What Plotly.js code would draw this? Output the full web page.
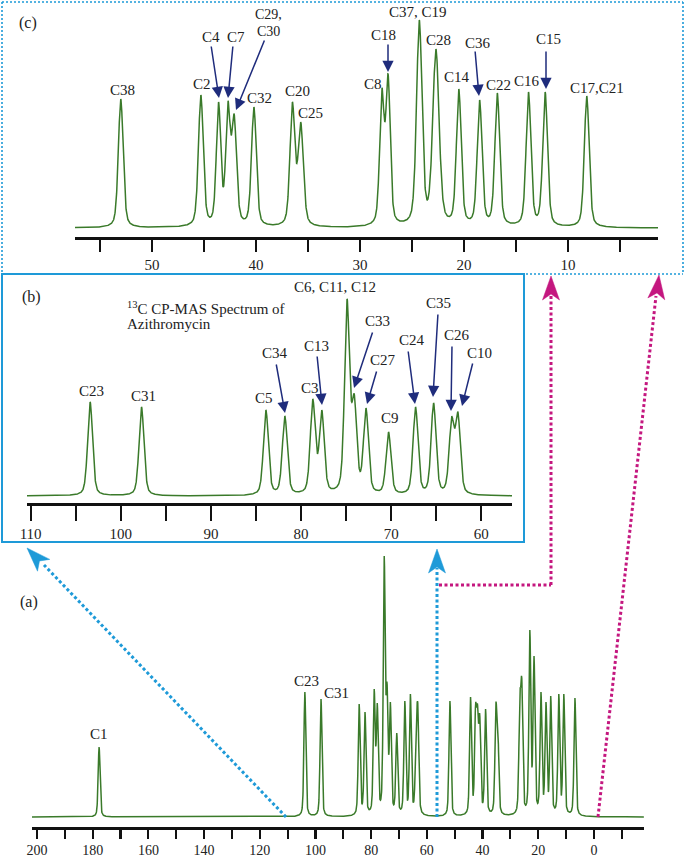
<!DOCTYPE html>
<html>
<head>
<meta charset="utf-8">
<script src="https://cdn.plot.ly/plotly-3.0.1.min.js"></script>
<style>
html,body{margin:0;padding:0;background:#fff;}
#chart{width:685px;height:859px;}
</style>
</head>
<body>
<div id="chart"></div>
<script>
// ---------------- DATA ----------------
// Panel (c): aliphatic region, 0-57 ppm
const cLabels = ["C38","C2","C4","C7","C29,C30","C32","C20","C25","C8","C18","C37,C19","C28","C14","C36","C22","C16","C15","C17,C21"];
const cShift  = [53.0, 45.3, 43.6, 42.7, 42.1, 40.2, 36.5, 35.7, 27.9, 27.3, 24.3, 22.7, 20.5, 18.5, 16.8, 13.8, 12.2, 8.2];
const cHeight = [129, 133, 126, 127, 114, 121, 126, 106, 140, 154, 208, 179, 139, 128, 135, 136, 136, 132];
const cWidth  = [0.55,0.55,0.5,0.5,0.55,0.55,0.55,0.6,0.5,0.5,0.62,0.72,0.55,0.55,0.55,0.55,0.55,0.55];

// Panel (b): 57-110 ppm
const bLabels = ["C23","C31","C5","C34","C3","C13","C6,C11,C12","C33","C27","C9","C24","C35","C26","C10"];
const bShift  = [103.4, 97.7, 83.9, 81.8, 78.7, 77.7, 74.9, 74.1, 72.8, 70.3, 67.3, 65.3, 63.3, 62.6];
const bHeight = [94, 89, 86, 80, 97, 86, 197, 102, 88, 64, 89, 93, 79, 84];

// Panel (a): full spectrum
const aShift  = [177.7, 103.8, 98.0, 84.3, 82.2, 78.9, 77.8, 75.3, 74.3, 73.1, 70.8, 67.9, 65.9, 63.8, 63.2,
                 51.7, 44.3, 42.5, 41.8, 41.0, 38.9, 35.2, 34.5, 26.6, 25.9, 23.0, 21.5, 19.0, 17.2, 15.5, 12.6, 10.8, 6.8];
const aHeight = [70, 125, 118, 113, 105, 128, 114, 261, 135, 115, 84, 116, 123, 104, 111,
                 116, 120, 113, 113, 103, 108, 114, 95, 125, 139, 187, 161, 125, 115, 121, 123, 123, 119];

// tick values / labels
const aTicks = [200,190,180,170,160,150,140,130,120,110,100,90,80,70,60,50,40,30,20,10,0,-10];
const aTickText = ["200","","180","","160","","140","","120","","100","","80","","60","","40","","20","","0",""];
const bTicks = [110,105,100,95,90,85,80,75,70,65,60];
const bTickText = ["110","","100","","90","","80","","70","","60"];
const cTicks = [55,50,45,40,35,30,25,20,15,10,5];
const cTickText = ["","50","","40","","30","","20","","10",""];

// ---------------- line shape (pseudo-Voigt) ----------------
function shape(x, x0, hw){
  const t = (x - x0) / hw;
  return 0.4 / (1 + t*t) + 0.6 * Math.exp(-Math.LN2 * t*t);
}
function spectrum(shifts, heights, widths, lo, hi, step){
  const n = shifts.length;
  const hw = widths.map(w => w/2);
  let amp = heights.slice();
  for(let it=0; it<60; it++){
    for(let i=0;i<n;i++){
      let s=0; for(let j=0;j<n;j++) s += amp[j]*shape(shifts[i], shifts[j], hw[j]);
      amp[i] = Math.max(0, amp[i] + 0.7*(heights[i]-s));
    }
  }
  const xs=[], ys=[];
  for(let x=hi; x>=lo; x-=step){
    let s=0; for(let j=0;j<n;j++) s += amp[j]*shape(x, shifts[j], hw[j]);
    xs.push(+x.toFixed(3)); ys.push(s);
  }
  return {x:xs, y:ys};
}
const sc = spectrum(cShift, cHeight, cWidth, 1.0, 57.8, 0.02);
const sb = spectrum(bShift, bHeight, bShift.map(()=>0.65), 56.4, 110.4, 0.02);
const sa = spectrum(aShift, aHeight, aShift.map(()=>0.8), -18, 201.8, 0.05);

const green = '#3a7a2a';
const traces = [
  {x:sa.x, y:sa.y, xaxis:'x', yaxis:'y', mode:'lines', line:{color:green,width:1.5}, hoverinfo:'skip'},
  {x:sb.x, y:sb.y, xaxis:'x2', yaxis:'y2', mode:'lines', line:{color:green,width:1.5}, hoverinfo:'skip'},
  {x:sc.x, y:sc.y, xaxis:'x3', yaxis:'y3', mode:'lines', line:{color:green,width:1.5}, hoverinfo:'skip'}
];

// ---------------- layout helpers ----------------
const W=685, H=859;
const PX = x => x/W;
const PY = y => 1 - y/H;
const FONT = '"Liberation Serif", "Times New Roman", serif';
const TXT = '#222';
const FS = 15;

function axisX(dom, anchor, range, ticks, text, ticklen, fs){
  return {
    domain:[PX(dom[0]), PX(dom[1])], anchor:anchor, range:range,
    tickmode:'array', tickvals:ticks, ticktext:text,
    ticks:'outside', ticklen:ticklen, tickwidth:2.2, tickcolor:'#111',
    showline:true, linewidth:2.5, linecolor:'#111',
    showgrid:false, zeroline:false, fixedrange:true,
    tickfont:{family:FONT, size:fs, color:TXT}
  };
}
function axisY(top, bottom, range){
  return {domain:[PY(bottom), PY(top)], range:range, visible:false, fixedrange:true};
}

// text labels (pixel centres)
const labels = [
  ['(c)',28,23,16], ['C38',122,90], ['C2',202,84], ['C4',211,37], ['C7',236,37],
  ['C29,',268,15,14], ['C30',268,31,14], ['C32',259,98], ['C20',297,91], ['C25',310,113],
  ['C8',373,84], ['C18',383,35], ['C37, C19',418,12], ['C28',439,40], ['C14',457,77],
  ['C36',478,43], ['C22',498,85], ['C16',527,81], ['C15',548,39], ['C17,C21',597,88],
  ['(b)',32,297,16], ['C6, C11, C12',335,287], ['C23',91,391], ['C31',143,396],
  ['C5',264,398], ['C34',275,353], ['C3',310,388], ['C13',316,346], ['C33',377,321],
  ['C27',383,360], ['C9',390,418], ['C24',412,340], ['C35',439,303], ['C26',457,335],
  ['C10',479,353],
  ['(a)',29,602,16], ['C1',99,734], ['C23',306,681], ['C31',336,693]
];
const annotations = labels.map(l => ({
  xref:'paper', yref:'paper', x:PX(l[1]), y:PY(l[2]), xanchor:'center', yanchor:'middle',
  text:l[0], showarrow:false, borderpad:0, font:{family:FONT, size:l[3]||FS, color:TXT}
}));
annotations.push({xref:'paper', yref:'paper', x:PX(126), y:PY(308), xanchor:'left', yanchor:'middle',
  text:'<sup>13</sup>C CP-MAS Spectrum of', showarrow:false, borderpad:0, font:{family:FONT,size:FS,color:TXT}});
annotations.push({xref:'paper', yref:'paper', x:PX(126), y:PY(324), xanchor:'left', yanchor:'middle',
  text:'Azithromycin', showarrow:false, borderpad:0, font:{family:FONT,size:FS,color:TXT}});

// navy pointer arrows: [tailX, tailY, tipX, tipY]
const navy = '#1f2c7c';
const pointers = [
  [211,45,219,98],[233,45,228,98],[265,39,236,110],[388,43,388,72],[475,50,479,96],[546,50,546,89],
  [276,363,285,413],[317,355,322,405],[373,331,354,388],[377,370,367,404],
  [408,350,415,404],[438,313,433,397],[452,345,451,411],[473,362,462,406]
];
pointers.forEach(p => annotations.push({
  xref:'paper', yref:'paper', x:PX(p[2]), y:PY(p[3]), ax:p[0]-p[2], ay:p[1]-p[3],
  axref:'pixel', ayref:'pixel', text:'', showarrow:true, arrowhead:2, arrowsize:1.5,
  arrowwidth:1.5, arrowcolor:navy, standoff:0
}));

// shapes: borders, dotted connectors, big arrow heads
const blue = '#1e9ad8', magenta = '#c4177f';
function seg(x0,y0,x1,y1,color,width,dash){
  return {type:'line', xref:'paper', yref:'paper', x0:PX(x0), y0:PY(y0), x1:PX(x1), y1:PY(y1),
          line:{color:color, width:width, dash:dash}};
}
function head(tx,ty,fx,fy,color){
  const dx=tx-fx, dy=ty-fy, len=Math.hypot(dx,dy), ux=dx/len, uy=dy/len;
  const nx=-uy, ny=ux, L=24, Wd=8.5, N=6;
  const pts = [
    [tx,ty],
    [tx-L*ux+Wd*nx, ty-L*uy+Wd*ny],
    [tx-(L-N)*ux, ty-(L-N)*uy],
    [tx-L*ux-Wd*nx, ty-L*uy-Wd*ny]
  ];
  const path = 'M' + pts.map(p => PX(p[0]).toFixed(5)+','+PY(p[1]).toFixed(5)).join(' L') + ' Z';
  return {type:'path', xref:'paper', yref:'paper', path:path, fillcolor:color, line:{color:color,width:0.5}};
}
const shapes = [
  seg(2,2,683,2,blue,1.6,'2px,2px'), seg(2,2,2,274,blue,1.6,'2px,2px'),
  seg(683,2,683,274,blue,1.6,'2px,2px'), seg(2,274,683,274,blue,1.6,'2px,2px'),
  {type:'rect', xref:'paper', yref:'paper', x0:PX(2), y0:PY(542), x1:PX(524), y1:PY(274),
   line:{color:blue,width:2}, fillcolor:'rgba(0,0,0,0)'},
  seg(286,817,44,565,blue,3,'3px,2.5px'),
  seg(437,817,437,568,blue,3,'3px,2.5px'),
  seg(439,585,551,585,magenta,3,'3px,2.5px'),
  seg(551,585,551,296,magenta,3,'3px,2.5px'),
  seg(598,817,656,296,magenta,3,'3px,2.5px'),
  head(27,548,286,817,blue),
  head(437,549,437,817,blue),
  head(551,276,551,585,magenta),
  head(659,275,598,817,magenta)
];

const layout = {
  width:W, height:H, margin:{l:0,r:0,t:0,b:0},
  paper_bgcolor:'#fff', plot_bgcolor:'rgba(0,0,0,0)', showlegend:false,
  xaxis:  axisX([32,644],'y',[201.8,-18],aTicks,aTickText,9,14),
  yaxis:  axisY(540,827,[-10,277]),
  xaxis2: axisX([27,512],'y2',[110.4,56.6],bTicks,bTickText,15,FS),
  yaxis2: axisY(285,503,[-7,211]),
  xaxis3: axisX([75,658],'y3',[57.4,1.35],cTicks,cTickText,12,FS),
  yaxis3: axisY(15,237,[-9,213]),
  annotations:annotations, shapes:shapes
};
Plotly.newPlot('chart', traces, layout, {staticPlot:true, displayModeBar:false});
</script>
</body>
</html>
